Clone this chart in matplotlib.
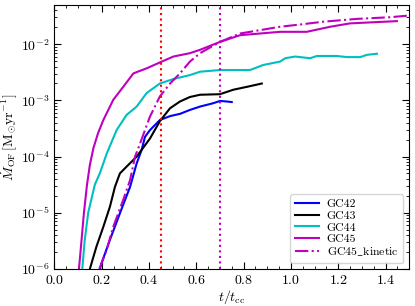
import matplotlib
matplotlib.use("Agg")
import numpy as np
import matplotlib.pyplot as plt

# time in units of t_cc, outflow rate as log10(Mdot / Msun yr^-1)
gc42_t = [0.193, 0.20, 0.235, 0.277, 0.320, 0.348, 0.369, 0.383, 0.404, 0.446,
          0.489, 0.531, 0.573, 0.616, 0.672, 0.70, 0.729, 0.75]
gc42_m = [-6.0, -5.89, -5.48, -5.01, -4.54, -4.12, -3.88, -3.65, -3.53, -3.35,
          -3.28, -3.24, -3.17, -3.11, -3.05, -3.01, -3.02, -3.03]

gc43_t = [0.150, 0.178, 0.207, 0.235, 0.256, 0.277, 0.305, 0.348, 0.369, 0.404,
          0.446, 0.489, 0.531, 0.573, 0.616, 0.70, 0.757, 0.813, 0.877]
gc43_m = [-6.0, -5.60, -5.25, -4.89, -4.54, -4.30, -4.18, -4.0, -3.88, -3.68,
          -3.37, -3.14, -3.02, -2.94, -2.90, -2.89, -2.81, -2.76, -2.70]

gc44_t = [0.118, 0.128, 0.143, 0.171, 0.193, 0.221, 0.263, 0.305, 0.348, 0.390,
          0.446, 0.503, 0.573, 0.616, 0.70, 0.743, 0.827, 0.883, 0.954, 0.976,
          1.018, 1.081, 1.11, 1.194, 1.237, 1.293, 1.321, 1.364]
gc44_m = [-6.0, -5.5, -5.0, -4.5, -4.29, -3.95, -3.53, -3.26, -3.11, -2.87,
          -2.70, -2.62, -2.55, -2.49, -2.46, -2.46, -2.46, -2.37, -2.31, -2.25,
          -2.22, -2.25, -2.21, -2.21, -2.23, -2.23, -2.19, -2.17]

gc45_t = [0.104, 0.115, 0.125, 0.138, 0.150, 0.165, 0.185, 0.207, 0.249, 0.291,
          0.334, 0.390, 0.454, 0.503, 0.573, 0.616, 0.70, 0.785, 0.870, 0.954,
          1.067, 1.166, 1.25, 1.348, 1.448]
gc45_m = [-6.0, -5.48, -5.0, -4.5, -4.15, -3.85, -3.58, -3.35, -2.99, -2.76,
          -2.52, -2.43, -2.31, -2.22, -2.16, -2.10, -1.96, -1.84, -1.81, -1.78,
          -1.78, -1.69, -1.63, -1.61, -1.59]

gc45k_t = [0.19, 0.221, 0.249, 0.291, 0.320, 0.341, 0.355, 0.404, 0.446, 0.489,
           0.531, 0.573, 0.616, 0.70, 0.785, 0.870, 0.954, 1.039, 1.137, 1.279,
           1.42, 1.5]
gc45k_m = [-6.0, -5.66, -5.25, -4.77, -4.42, -4.0, -3.85, -3.29, -2.93, -2.70,
           -2.52, -2.31, -2.16, -1.96, -1.81, -1.75, -1.69, -1.65, -1.60, -1.55,
           -1.52, -1.49]

t_mark_red = 0.45
t_mark_mag = 0.70

plt.rcParams["font.family"] = "serif"
plt.rcParams["font.serif"] = ["cmr10", "DejaVu Serif"]
plt.rcParams["mathtext.fontset"] = "cm"
plt.rcParams["axes.formatter.use_mathtext"] = True
plt.rcParams["axes.unicode_minus"] = False

fig = plt.figure(figsize=(4.15, 3.06), dpi=100)
ax = fig.add_axes([0.131, 0.121, 0.855, 0.863])

ax.plot(gc42_t, 10 ** np.array(gc42_m), color="b", lw=1.5, label="GC42")
ax.plot(gc43_t, 10 ** np.array(gc43_m), color="k", lw=1.5, label="GC43")
ax.plot(gc44_t, 10 ** np.array(gc44_m), color="c", lw=1.5, label="GC44")
ax.plot(gc45_t, 10 ** np.array(gc45_m), color="m", lw=1.5, label="GC45")
ax.plot(gc45k_t, 10 ** np.array(gc45k_m), color="m", lw=1.5, ls="-.",
        label=r"GC45$\_$kinetic")

ax.axvline(t_mark_red, color="r", ls=":", lw=1.5)
ax.axvline(t_mark_mag, color="m", ls=":", lw=1.5)

ax.set_yscale("log")
ax.set_xlim(0, 1.5)
ax.set_ylim(1e-6, 5e-2)
ax.set_xticks(np.arange(0, 1.41, 0.2))
ax.xaxis.set_minor_locator(matplotlib.ticker.MultipleLocator(0.05))
ax.tick_params(which="both", direction="in", top=True, right=True, labelsize=10)
ax.tick_params(which="major", length=5)
ax.tick_params(which="minor", length=2.5)

ax.set_xlabel(r"$t/t_{\rm cc}$", fontsize=10, labelpad=1)
ax.set_ylabel(r"$\dot{M}_{\rm OF}\,[{\rm M_{\odot}yr^{-1}}]$", fontsize=10, labelpad=1)

ax.legend(loc="lower right", fontsize=8.5, handlelength=2.0, handletextpad=0.7,
          labelspacing=0.12, borderpad=0.4)

fig.savefig("out.png", dpi=100)
